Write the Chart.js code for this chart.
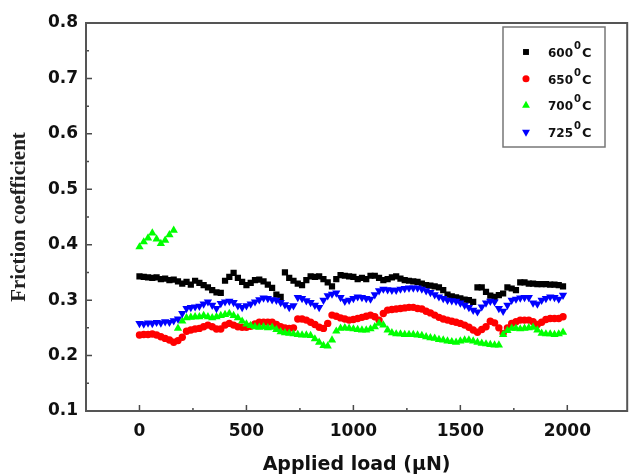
<!DOCTYPE html>
<html>
<head>
<meta charset="utf-8">
<script src="https://cdn.jsdelivr.net/npm/chart.js@4.4.0/dist/chart.umd.min.js"></script>
<style>
  html, body { margin: 0; padding: 0; background: #fff; }
  #wrap { width: 632px; height: 476px; }
</style>
</head>
<body>
<div id="wrap"><canvas id="chart"></canvas></div>
<script>
// applied load, one reading every 20 µN
const loads = [];
for (let i = 0; i < 100; i++) loads.push(i * 20);

const mu600 = [
  .343, .342, .341, .340, .341, .338, .339, .336, .337, .334,
  .330, .333, .328, .335, .331, .327, .323, .318, .314, .313,
  .335, .342, .349, .340, .333, .327, .331, .336, .337, .334,
  .328, .322, .310, .306, .350, .340, .335, .330, .327, .336,
  .343, .342, .343, .338, .332, .325, .338, .345, .344, .343,
  .342, .338, .340, .338, .344, .344, .340, .336, .338, .341,
  .343, .339, .336, .335, .334, .333, .330, .327, .326, .325,
  .323, .318, .310, .307, .305, .303, .301, .300, .297, .323,
  .323, .315, .308, .306, .309, .312, .323, .321, .318, .332,
  .332, .330, .330, .329, .329, .329, .328, .328, .327, .325
];

const mu650 = [
  .237, .238, .238, .239, .237, .234, .231, .228, .224, .227,
  .233, .244, .246, .248, .249, .252, .255, .252, .248, .248,
  .255, .258, .255, .252, .251, .251, .253, .257, .260, .260,
  .260, .260, .256, .252, .250, .249, .250, .266, .266, .264,
  .260, .256, .251, .249, .258, .273, .271, .268, .266, .264,
  .265, .267, .269, .271, .273, .270, .264, .276, .282, .283,
  .284, .285, .286, .287, .287, .285, .284, .280, .277, .273,
  .269, .266, .264, .262, .260, .258, .255, .251, .246, .242,
  .247, .252, .262, .259, .250, .240, .250, .258, .261, .264,
  .264, .264, .261, .256, .260, .265, .267, .267, .267, .270
];

const mu700 = [
  .396, .405, .412, .421, .410, .402, .408, .418, .426, .249,
  .262, .268, .269, .270, .270, .272, .270, .268, .270, .272,
  .274, .276, .272, .268, .262, .257, .254, .252, .251, .252,
  .250, .251, .247, .243, .241, .240, .239, .238, .237, .237,
  .236, .230, .224, .218, .217, .228, .244, .249, .250, .249,
  .248, .247, .246, .246, .248, .252, .258, .255, .246, .241,
  .239, .239, .238, .238, .238, .237, .236, .234, .232, .231,
  .229, .228, .226, .225, .224, .226, .228, .228, .226, .224,
  .222, .221, .220, .219, .219, .238, .245, .249, .249, .248,
  .249, .250, .251, .246, .240, .239, .239, .238, .239, .242
];

const mu725 = [
  .258, .257, .259, .258, .260, .259, .261, .260, .263, .266,
  .276, .285, .287, .288, .289, .293, .297, .291, .285, .294,
  .297, .298, .296, .290, .287, .290, .293, .297, .301, .304,
  .303, .301, .300, .296, .292, .287, .290, .305, .303, .299,
  .296, .291, .287, .300, .308, .311, .313, .305, .298, .300,
  .303, .306, .305, .303, .302, .310, .317, .320, .319, .318,
  .318, .320, .321, .322, .322, .322, .320, .317, .314, .310,
  .306, .303, .300, .299, .298, .295, .291, .287, .282, .279,
  .288, .295, .298, .297, .285, .280, .291, .300, .302, .304,
  .305, .305, .295, .293, .300, .303, .306, .305, .302, .309
];

const seriesNames = ['600', '650', '700', '725'];
const xTicks = [0, 500, 1000, 1500, 2000];
const xMinor = [250, 750, 1250, 1750];
const yTicks = [0.1, 0.2, 0.3, 0.4, 0.5, 0.6, 0.7, 0.8];
const yMinor = [0.15, 0.25, 0.35, 0.45, 0.55, 0.65, 0.75];

const styles = [
  { color: '#000000', shape: 'rect', r: 4.4, rot: 0 },
  { color: '#ff0000', shape: 'circle', r: 3.7, rot: 0 },
  { color: '#00ff00', shape: 'triangle', r: 4.8, rot: 0 },
  { color: '#0000ff', shape: 'triangle', r: 4.8, rot: 180 }
];

const toXY = arr => arr.map((v, i) => ({ x: loads[i], y: v }));
const allSeries = [mu600, mu650, mu700, mu725];

const datasets = allSeries.map((arr, i) => ({
  label: seriesNames[i] + '⁰C',
  data: toXY(arr),
  pointStyle: styles[i].shape,
  pointRadius: styles[i].r,
  pointRotation: styles[i].rot,
  pointBackgroundColor: styles[i].color,
  pointBorderColor: styles[i].color,
  pointBorderWidth: 0,
  showLine: false,
  order: 4 - i
}));

function marker(ctx, shape, x, y, r, rot, color) {
  ctx.save();
  ctx.fillStyle = color;
  ctx.translate(x, y);
  ctx.rotate(rot * Math.PI / 180);
  ctx.beginPath();
  if (shape === 'rect') {
    const s = r * Math.SQRT1_2;
    ctx.rect(-s, -s, 2 * s, 2 * s);
  } else if (shape === 'circle') {
    ctx.arc(0, 0, r, 0, Math.PI * 2);
  } else {
    ctx.moveTo(0, -r);
    ctx.lineTo(r * 0.866, r * 0.5);
    ctx.lineTo(-r * 0.866, r * 0.5);
    ctx.closePath();
  }
  ctx.fill();
  ctx.restore();
}

// frame, inward ticks and the boxed legend
const framePlugin = {
  id: 'frame',
  afterDraw(chart) {
    const { ctx, chartArea: a, scales: { x, y } } = chart;
    ctx.save();
    ctx.strokeStyle = '#4a4a4a';
    ctx.lineWidth = 1.5;
    ctx.beginPath();
    xTicks.forEach(v => { const p = x.getPixelForValue(v); ctx.moveTo(p, a.bottom); ctx.lineTo(p, a.bottom - 6); });
    xMinor.forEach(v => { const p = x.getPixelForValue(v); ctx.moveTo(p, a.bottom); ctx.lineTo(p, a.bottom - 3); });
    yTicks.forEach(v => { const p = y.getPixelForValue(v); ctx.moveTo(a.left, p); ctx.lineTo(a.left + 6, p); });
    yMinor.forEach(v => { const p = y.getPixelForValue(v); ctx.moveTo(a.left, p); ctx.lineTo(a.left + 3, p); });
    ctx.stroke();
    ctx.lineWidth = 2;
    ctx.strokeStyle = '#555';
    ctx.strokeRect(a.left, a.top, a.right - a.left, a.bottom - a.top);

    // legend
    const lx = 503, ly = 27, lw = 102, lh = 120;
    ctx.lineWidth = 1.5;
    ctx.strokeStyle = '#777';
    ctx.fillStyle = '#fff';
    ctx.fillRect(lx, ly, lw, lh);
    ctx.strokeRect(lx, ly, lw, lh);
    ctx.textBaseline = 'alphabetic';
    seriesNames.forEach((name, i) => {
      const cy = 52 + i * 26.7;
      const s = styles[i];
      marker(ctx, s.shape, 526, cy, s.r * 0.95, s.rot, s.color);
      ctx.fillStyle = '#111';
      ctx.font = 'bold 12px "DejaVu Sans"';
      ctx.fillText(name, 548, cy + 5);
      const w = ctx.measureText(name).width;
      ctx.font = 'bold 10px "DejaVu Sans"';
      ctx.fillText('0', 548 + w + 1, cy - 3);
      const w2 = ctx.measureText('0').width;
      ctx.font = 'bold 13px "DejaVu Sans"';
      ctx.fillText('C', 548 + w + w2 + 2, cy + 5);
    });
    ctx.restore();
  }
};

new Chart(document.getElementById('chart'), {
  type: 'scatter',
  data: { datasets },
  options: {
    responsive: true,
    maintainAspectRatio: false,
    animation: false,
    layout: { padding: { top: 23, right: 2, left: 0, bottom: 0 } },
    plugins: { legend: { display: false }, tooltip: { enabled: false } },
    scales: {
      x: {
        type: 'linear',
        min: -250,
        max: 2280,
        afterBuildTicks: s => { s.ticks = xTicks.map(v => ({ value: v })); },
        afterFit: s => { s.height = 65; },
        grid: { display: false, drawTicks: false },
        border: { display: false },
        ticks: {
          padding: 10,
          color: '#111',
          callback: v => String(v),
          font: { family: 'DejaVu Sans', size: 17, weight: 'bold' }
        },
        title: {
          display: true,
          text: 'Applied load (μN)',
          color: '#111',
          padding: { top: 0, bottom: 0 },
          font: { family: 'DejaVu Sans', size: 19, weight: 'bold' }
        }
      },
      y: {
        type: 'linear',
        min: 0.1,
        max: 0.8,
        afterBuildTicks: s => { s.ticks = yTicks.map(v => ({ value: v })); },
        afterFit: s => { s.width = 86; },
        grid: { display: false, drawTicks: false },
        border: { display: false },
        ticks: {
          padding: 8,
          color: '#111',
          callback: v => v.toFixed(1),
          font: { family: 'DejaVu Sans', size: 17, weight: 'bold' }
        },
        title: {
          display: true,
          text: 'Friction coefficient',
          color: '#222',
          padding: { top: 7, bottom: 0 },
          font: { family: 'Liberation Serif', size: 21, weight: 'bold' }
        }
      }
    }
  },
  plugins: [framePlugin]
});
</script>
</body>
</html>
